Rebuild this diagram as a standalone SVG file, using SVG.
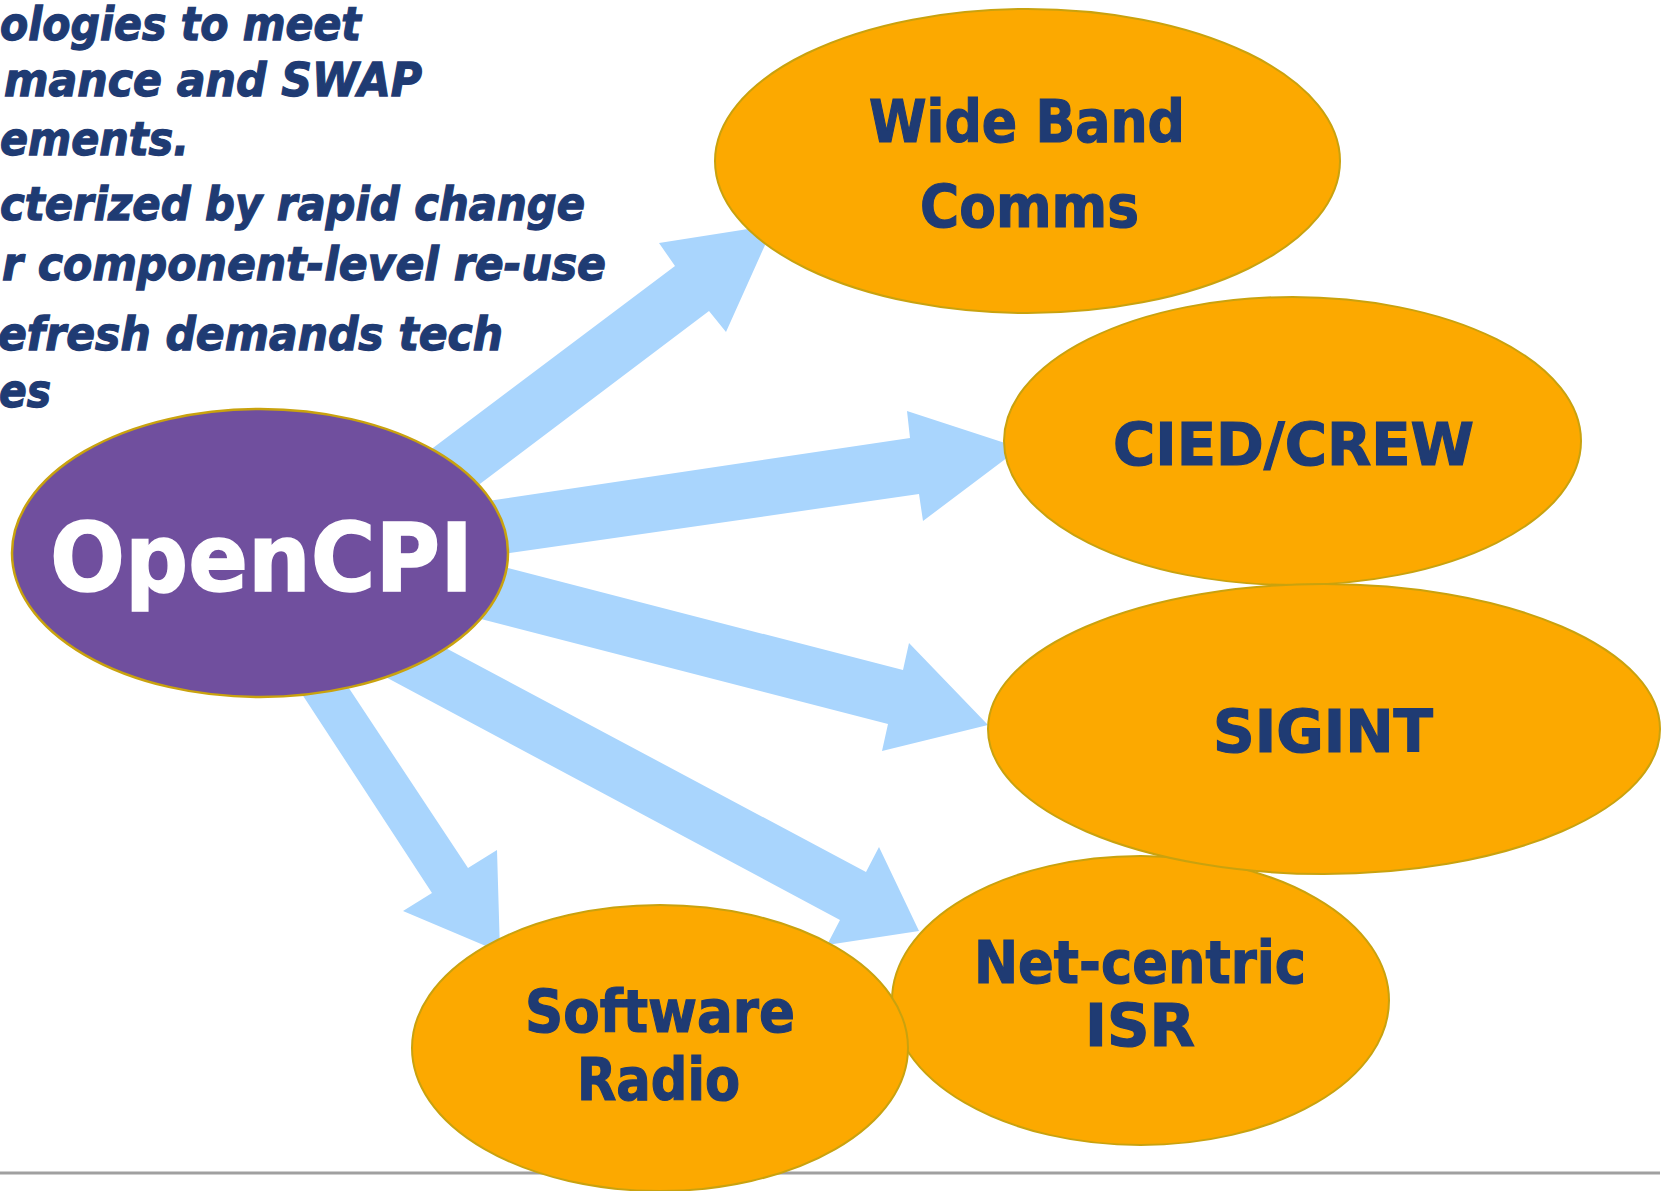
<svg xmlns="http://www.w3.org/2000/svg" width="1669" height="1191" viewBox="0 0 1669 1191">
<style>
.bg{fill:#ffffff}
.arrow{fill:#A9D5FD;stroke:none}
.target{fill:#FCA900;stroke:#C9A20E;stroke-width:2}
.hub{fill:#704F9E;stroke:#C9A20E;stroke-width:2.5}
.lbl{font-family:"DejaVu Sans","Liberation Sans",sans-serif;font-weight:bold;font-size:59px;fill:#1F3B73;stroke:#1F3B73;stroke-width:1.2;text-anchor:middle}
.hubtxt{font-family:"DejaVu Sans","Liberation Sans",sans-serif;font-weight:bold;font-size:95px;fill:#ffffff;stroke:#ffffff;stroke-width:1.5;text-anchor:middle}
.bullet{font-family:"DejaVu Sans","Liberation Sans",sans-serif;font-weight:bold;font-style:italic;font-size:47px;fill:#1F3B73;stroke:#1F3B73;stroke-width:1.3;text-anchor:end}
</style>
<rect class="bg" x="0" y="0" width="1669" height="1191"/>
<line x1="0" y1="1173" x2="1660" y2="1173" stroke="#A0A0A0" stroke-width="3"/>
<g id="bullets">
<text class="bullet" x="361" y="40" textLength="361" lengthAdjust="spacingAndGlyphs">ologies to meet</text>
<text class="bullet" x="422" y="96" textLength="418" lengthAdjust="spacingAndGlyphs">mance and SWAP</text>
<text class="bullet" x="189" y="155" textLength="189" lengthAdjust="spacingAndGlyphs">ements.</text>
<text class="bullet" x="585" y="220" textLength="585" lengthAdjust="spacingAndGlyphs">cterized by rapid change</text>
<text class="bullet" x="606" y="280" textLength="604" lengthAdjust="spacingAndGlyphs">r component-level re-use</text>
<text class="bullet" x="503" y="350" textLength="505" lengthAdjust="spacingAndGlyphs">efresh demands tech</text>
<text class="bullet" x="51" y="407" textLength="52" lengthAdjust="spacingAndGlyphs">es</text>
</g>
<g id="connectors">
<polygon class="arrow" points="401,472 675,266 659,243 774,225 726,332 709,311 448,508"/>
<polygon class="arrow" points="454,506 910,438 907,411 1020,448 923,521 919,494 469,559"/>
<polygon class="arrow" points="469,558 903,670 909,643 988,725 882,751 888,724 442,609"/>
<polygon class="arrow" points="410,629 866,872 879,847 919,931 827,945 840,920 350,658"/>
<polygon class="arrow" points="327,655 468,868 497,850 500,952 403,911 432,893 281,662"/>
</g>
<g id="node-widebandcomms">
<ellipse class="target" cx="1027.5" cy="161" rx="312.5" ry="152"/>
<text class="lbl" x="1027" y="142" textLength="316" lengthAdjust="spacingAndGlyphs">Wide Band</text>
<text class="lbl" x="1029.5" y="227" textLength="219" lengthAdjust="spacingAndGlyphs">Comms</text>
</g>
<g id="node-ciedcrew">
<ellipse class="target" cx="1292.5" cy="441" rx="288.5" ry="144"/>
<text class="lbl" x="1293.5" y="465" textLength="361" lengthAdjust="spacingAndGlyphs">CIED/CREW</text>
</g>
<g id="node-netcentricisr">
<ellipse class="target" cx="1140.5" cy="1000.5" rx="248.5" ry="144.5"/>
<text class="lbl" x="1140" y="983" textLength="332" lengthAdjust="spacingAndGlyphs">Net-centric</text>
<text class="lbl" x="1140" y="1046" textLength="110" lengthAdjust="spacingAndGlyphs">ISR</text>
</g>
<g id="node-sigint">
<ellipse class="target" cx="1324" cy="729" rx="336" ry="145"/>
<text class="lbl" x="1323" y="752" textLength="220" lengthAdjust="spacingAndGlyphs">SIGINT</text>
</g>
<g id="node-softwareradio">
<ellipse class="target" cx="660" cy="1048" rx="248" ry="143"/>
<text class="lbl" x="660" y="1032" textLength="270" lengthAdjust="spacingAndGlyphs">Software</text>
<text class="lbl" x="658.5" y="1100" textLength="163" lengthAdjust="spacingAndGlyphs">Radio</text>
</g>
<g id="node-opencpi">
<ellipse class="hub" cx="260" cy="553" rx="248" ry="144"/>
<text class="hubtxt" x="261.5" y="591" textLength="423" lengthAdjust="spacingAndGlyphs">OpenCPI</text>
</g>
</svg>
